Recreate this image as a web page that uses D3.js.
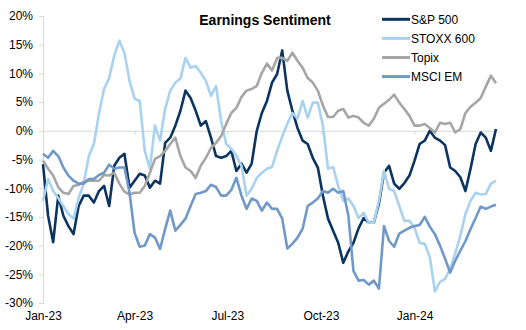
<!DOCTYPE html>
<html>
<head>
<meta charset="utf-8">
<script src="https://cdn.jsdelivr.net/npm/d3@7"></script>
<style>
  body { margin: 0; background: #fff; }
  svg { display: block; font-family: "Liberation Sans", Arial, sans-serif; }
</style>
</head>
<body>
<svg id="chart" width="526" height="330"></svg>
<script>
// values sampled every 5 days starting 1 Jan 2023 (in %)
const seriesNames = ['S&P 500', 'STOXX 600', 'Topix', 'MSCI EM'];
const seriesColors = ['#0b3461', '#a9d2f0', '#a6a6a6', '#7098c9'];

const sp500 = [-5.8, -14.8, -19.4, -11.3, -14.8, -16.6, -18.0, -13.1, -11.3, -11.3,
  -12.5, -10.5, -9.6, -13.1, -6.1, -4.7, -4.0, -9.9, -8.7, -7.5,
  -7.8, -9.9, -8.7, -9.2, -2.1, -1.2, 0.9, 3.5, 7.0, 5.7,
  3.5, 0.9, 1.7, -1.2, -4.4, -4.7, -4.4, -3.5, -7.0, -5.7,
  -7.3, -5.7, 0.0, 3.1, 5.2, 8.4, 9.9, 14.0, 7.0, 3.5,
  0.5, -1.7, -2.3, -4.7, -6.4, -11.3, -15.3, -17.4, -19.5, -23.0,
  -21.0, -19.5, -17.0, -15.2, -16.0, -16.0, -12.7, -7.3, -6.1, -9.2,
  -10.1, -9.1, -7.8, -5.2, -2.3, -1.7, 0.0, -1.2, -1.7, -2.5,
  -6.4, -7.0, -8.1, -10.5, -6.6, -2.3, -0.3, -1.2, -3.5, 0.3];

const stoxx600 = [-12.2, -8.4, -10.5, -11.7, -13.1, -14.5, -15.3, -11.7, -9.2, -4.4,
  -2.3, 3.0, 7.3, 9.2, 13.1, 15.7, 13.6, 8.7, 5.6, 5.2,
  -3.5, -6.6, 0.9, -1.7, 3.8, 7.0, 8.4, 9.1, 12.7, 11.0,
  11.3, 10.1, 8.7, 6.1, 7.8, 1.7, -2.3, -3.1, -4.4, -6.1,
  -11.3, -10.1, -8.2, -7.3, -6.6, -6.3, -3.5, -1.0, 1.2, 3.1,
  2.1, 5.2, 2.3, 4.9, 4.9, 0.9, -6.6, -6.3, -9.6, -12.2,
  -11.8, -13.1, -15.2, -14.3, -16.0, -16.0, -12.2, -7.0, -10.1, -10.5,
  -13.1, -15.7, -15.7, -16.9, -19.5, -19.7, -22.0, -28.0, -26.3, -25.8,
  -24.0, -21.3, -18.3, -14.5, -12.2, -10.8, -11.1, -11.0, -9.2, -8.7];

const topix = [-5.2, -6.6, -7.8, -9.8, -10.8, -11.0, -9.6, -9.4, -8.9, -8.7,
  -8.7, -8.7, -7.7, -7.8, -7.3, -9.2, -10.6, -11.1, -10.8, -10.8,
  -9.6, -7.3, -4.9, -4.4, -3.5, -2.3, -1.2, -4.4, -6.4, -7.0,
  -8.2, -6.1, -4.7, -3.0, -2.1, -0.9, 1.2, 3.1, 4.0, 5.9,
  7.0, 7.3, 7.8, 10.1, 11.7, 10.5, 12.7, 12.7, 12.2, 13.6,
  12.2, 11.0, 9.2, 8.4, 7.0, 4.4, 2.4, 2.4, 3.5, 3.8,
  2.3, 2.6, 2.3, 1.4, 0.9, 2.1, 4.0, 4.7, 5.4, 6.3,
  4.9, 3.8, 2.6, 0.9, 0.9, 1.2, 0.5, -0.3, 1.4, 1.2,
  1.4, -0.3, 0.3, 3.1, 4.2, 4.9, 5.7, 7.7, 9.6, 8.3];

const msciEM = [-4.0, -4.7, -3.5, -4.4, -6.4, -7.8, -8.7, -9.2, -9.2, -8.4,
  -8.4, -7.7, -7.3, -5.9, -6.6, -6.4, -6.4, -10.8, -17.8, -20.2,
  -20.0, -18.0, -18.6, -20.6, -17.1, -13.9, -17.4, -16.4, -15.3, -13.1,
  -11.0, -10.8, -10.5, -9.4, -9.8, -11.3, -11.3, -10.3, -8.2, -11.3,
  -13.6, -11.8, -12.2, -13.9, -12.5, -13.6, -13.6, -15.3, -20.5, -19.7,
  -18.6, -17.1, -13.1, -12.5, -11.8, -10.5, -10.8, -10.1, -10.8, -10.5,
  -14.8, -24.4, -26.1, -26.0, -26.8, -26.1, -27.5, -16.6, -19.2, -20.2,
  -17.9, -17.4, -16.9, -16.6, -16.4, -15.0, -16.7, -18.0, -20.0, -22.3,
  -24.7, -22.6, -20.9, -19.2, -17.1, -15.2, -13.2, -13.6, -13.2, -12.9];

const yTicks = [20, 15, 10, 5, 0, -5, -10, -15, -20, -25, -30];
const xTickLabels = ['Jan-23', 'Apr-23', 'Jul-23', 'Oct-23', 'Jan-24'];
const xTickDates = [new Date(2023, 0, 1), new Date(2023, 3, 1), new Date(2023, 6, 1),
  new Date(2023, 9, 1), new Date(2024, 0, 1)];

const start = new Date(2023, 0, 1);
const dates = sp500.map((_, i) => d3.timeDay.offset(start, i * 5));
const allSeries = [sp500, stoxx600, topix, msciEM];

const svg = d3.select('#chart');

const x = d3.scaleTime()
  .domain([start, new Date(2024, 2, 22)])
  .range([43, 497]);
const y = d3.scaleLinear()
  .domain([-30, 20])
  .range([303, 16]);

// y axis
const yAxis = svg.append('g')
  .attr('transform', 'translate(43,0)')
  .call(d3.axisLeft(y).tickValues(yTicks).tickFormat(d => d + '%').tickSize(4).tickPadding(6));
yAxis.select('.domain').attr('stroke', '#d9d9d9');
yAxis.selectAll('.tick line').attr('stroke', '#d9d9d9');
yAxis.selectAll('text').attr('font-size', 12).attr('fill', '#000')
  .attr('font-family', '"Liberation Sans", Arial, sans-serif');

// x axis line at 0%
const xLine = svg.append('g')
  .attr('transform', `translate(0,${y(0)})`)
  .call(d3.axisBottom(x).tickValues(xTickDates).tickFormat('').tickSize(4).tickSizeOuter(0));
xLine.select('.domain').attr('stroke', '#d9d9d9');
xLine.selectAll('.tick line').attr('stroke', '#d9d9d9');

// x labels at the bottom
const xLab = svg.append('g')
  .attr('transform', 'translate(0,303)')
  .call(d3.axisBottom(x).tickValues(xTickDates)
    .tickFormat((d, i) => xTickLabels[i]).tickSize(0).tickPadding(8.5));
xLab.select('.domain').remove();
xLab.selectAll('text').attr('font-size', 12).attr('fill', '#000')
  .attr('font-family', '"Liberation Sans", Arial, sans-serif');

// lines
const line = d3.line()
  .x((d, i) => x(dates[i]))
  .y(d => y(d));

svg.append('g').selectAll('path')
  .data(allSeries)
  .join('path')
  .attr('d', line)
  .attr('fill', 'none')
  .attr('stroke', (d, i) => seriesColors[i])
  .attr('stroke-width', 2.6)
  .attr('stroke-linejoin', 'round');

// title
svg.append('text')
  .attr('x', 265)
  .attr('y', 25)
  .attr('text-anchor', 'middle')
  .attr('font-size', 14)
  .attr('font-weight', 'bold')
  .text('Earnings Sentiment');

// legend
const legend = svg.append('g').selectAll('g')
  .data(seriesNames)
  .join('g')
  .attr('transform', (d, i) => `translate(382,${19.3 + i * 19.1})`);
legend.append('line')
  .attr('x1', 0).attr('x2', 28)
  .attr('stroke', (d, i) => seriesColors[i])
  .attr('stroke-width', 3);
legend.append('text')
  .attr('x', 29)
  .attr('dy', '0.35em')
  .attr('font-size', 12)
  .text(d => d);
</script>
</body>
</html>
